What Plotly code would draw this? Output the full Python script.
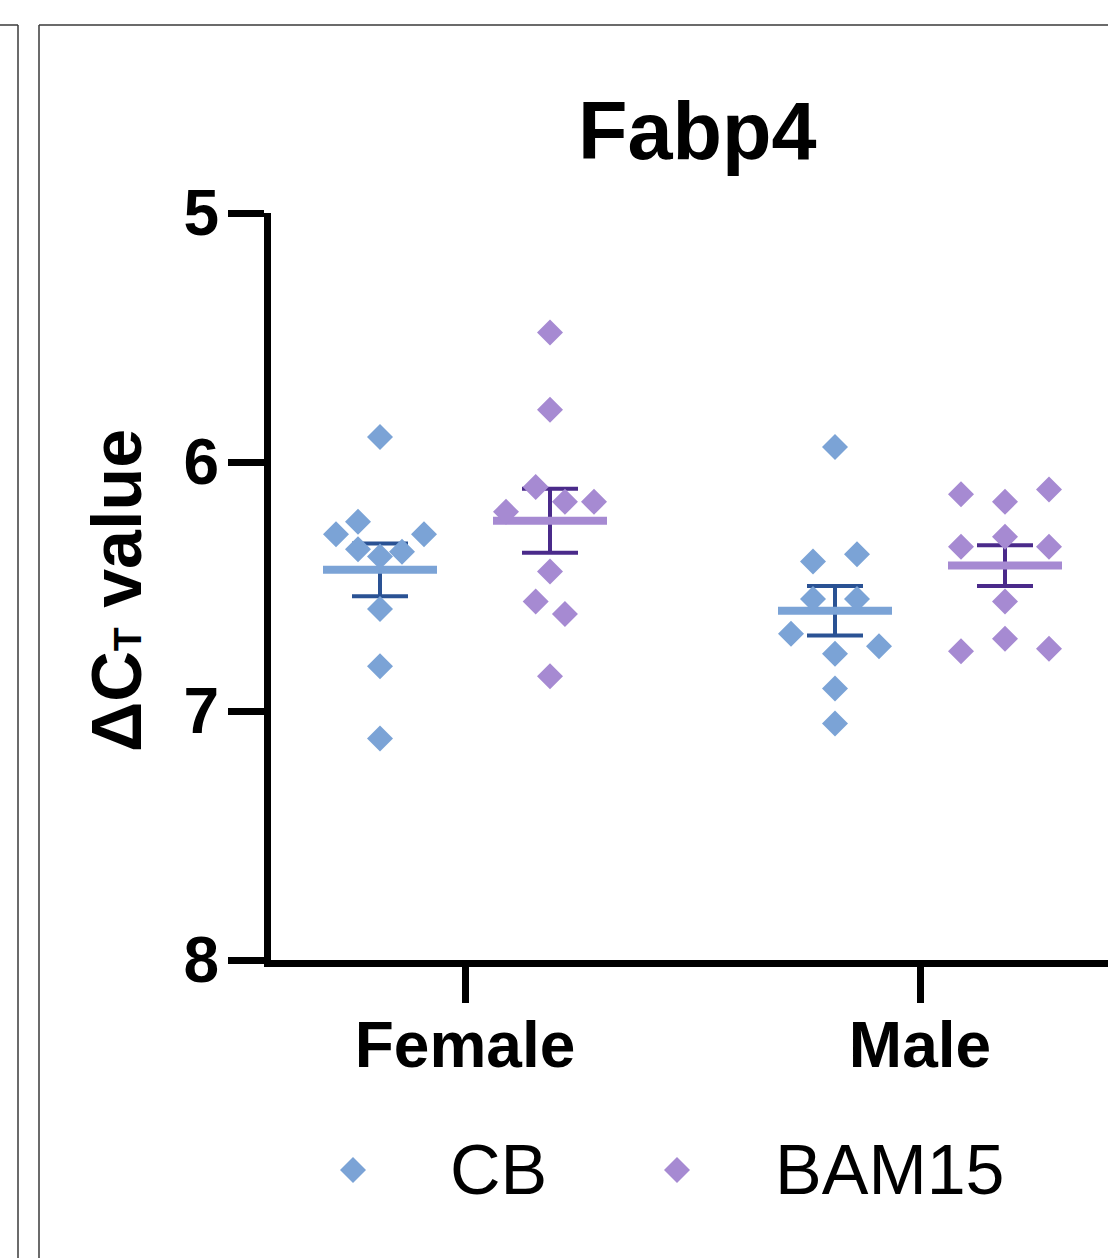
import numpy as np
import plotly.graph_objects as go

# ---------------- data ----------------
categories = ["Female", "Male"]
groups = ["CB", "BAM15"]

female_cb = [5.90, 6.29, 6.24, 6.29, 6.35, 6.38, 6.36, 6.59, 6.82, 7.11]
female_cb_jitter = [0, -2, -1, 2, -1, 0, 1, 0, 0, 0]

female_bam15 = [5.48, 5.79, 6.10, 6.20, 6.16, 6.16, 6.44, 6.56, 6.61, 6.86]
female_bam15_jitter = [0, 0, -0.65, -2, 0.68, 2, 0, -0.65, 0.68, 0]

male_cb = [5.94, 6.40, 6.37, 6.55, 6.55, 6.69, 6.77, 6.74, 6.91, 7.05]
male_cb_jitter = [0, -1, 1, -1, 1, -2, 0, 2, 0, 0]

male_bam15 = [6.13, 6.16, 6.11, 6.34, 6.30, 6.34, 6.56, 6.76, 6.71, 6.75]
male_bam15_jitter = [-2, 0, 2, -2, 0, 2, 0, -2, 0, 2]

y_ticks = [5, 6, 7, 8]

# ---------------- styling ----------------
W, H = 1108, 1258
L, R, T, B = 271, 0, 213, 298
PX_PER_X = 455.0
GROUP_OFF = 85 / PX_PER_X
JIT_STEP = 22 / PX_PER_X
MEAN_HALF = 57 / PX_PER_X
CAP_HALF = 28 / PX_PER_X

colors = {
    "CB": ("#7BA3D6", "#2A5294"),
    "BAM15": ("#A68AD2", "#4A2A8A"),
}
FONT = "Liberation Sans, Arial, sans-serif"

plot_w = W - L - R
plot_h = H - T - B
x_lo = -(465 - L) / PX_PER_X
x_hi = x_lo + plot_w / PX_PER_X


def px2paper_x(px):
    return (px - L) / plot_w


def px2paper_y(py):
    return (H - B - py) / plot_h


series = [
    (0, "CB", female_cb, female_cb_jitter),
    (0, "BAM15", female_bam15, female_bam15_jitter),
    (1, "CB", male_cb, male_cb_jitter),
    (1, "BAM15", male_bam15, male_bam15_jitter),
]

fig = go.Figure()

# mean & SEM
for ci, g, vals, jit in series:
    v = np.array(vals)
    m = v.mean()
    sem = v.std(ddof=1) / np.sqrt(len(v))
    xc = ci + (-GROUP_OFF if g == "CB" else GROUP_OFF)
    light, dark = colors[g]
    fig.add_trace(go.Scatter(
        x=[xc, xc, None, xc - CAP_HALF, xc + CAP_HALF, None, xc - CAP_HALF, xc + CAP_HALF],
        y=[m - sem, m + sem, None, m - sem, m - sem, None, m + sem, m + sem],
        mode="lines", line=dict(color=dark, width=4), showlegend=False,
        hoverinfo="skip"))
    fig.add_trace(go.Scatter(
        x=[xc - MEAN_HALF, xc + MEAN_HALF], y=[m, m],
        mode="lines", line=dict(color=light, width=8), showlegend=False,
        hoverinfo="skip"))

# points
for ci, g, vals, jit in series:
    xc = ci + (-GROUP_OFF if g == "CB" else GROUP_OFF)
    light, dark = colors[g]
    fig.add_trace(go.Scatter(
        x=[xc + j * JIT_STEP for j in jit], y=vals, mode="markers",
        marker=dict(symbol="diamond", size=20, color=light, line=dict(width=0)),
        name=g, showlegend=False))

shapes = []
frame = dict(type="line", xref="paper", yref="paper",
             line=dict(color="#3a3a3a", width=1.5), layer="below")
shapes.append(dict(frame, x0=px2paper_x(18), x1=px2paper_x(18),
                   y0=px2paper_y(25), y1=px2paper_y(1270)))
shapes.append(dict(frame, x0=px2paper_x(-5), x1=px2paper_x(18),
                   y0=px2paper_y(25), y1=px2paper_y(25)))
shapes.append(dict(frame, x0=px2paper_x(39), x1=px2paper_x(39),
                   y0=px2paper_y(25), y1=px2paper_y(1270)))
shapes.append(dict(frame, x0=px2paper_x(39), x1=px2paper_x(1120),
                   y0=px2paper_y(25), y1=px2paper_y(25)))

annotations = []
legend_items = [("CB", 353, 448), ("BAM15", 677, 773)]
for g, mx, tx in legend_items:
    shapes.append(dict(type="path", xref="paper", yref="paper",
                       xsizemode="pixel", ysizemode="pixel",
                       xanchor=px2paper_x(mx), yanchor=px2paper_y(1170),
                       path="M -13 0 L 0 13 L 13 0 L 0 -13 Z",
                       fillcolor=colors[g][0], line=dict(width=0)))
    annotations.append(dict(text=g, xref="paper", yref="paper",
                            x=px2paper_x(tx), y=px2paper_y(1170),
                            xanchor="left", yanchor="middle", showarrow=False,
                            font=dict(family=FONT, size=70, color="black")))

annotations.append(dict(text="<b>Fabp4</b>", xref="paper", yref="paper",
                        x=px2paper_x(697), y=px2paper_y(131),
                        xanchor="center", yanchor="middle", showarrow=False,
                        font=dict(family=FONT, size=81, color="black")))
annotations.append(dict(text="<b>ΔC<span style='font-size:39px'>T</span> value</b>",
                        xref="paper", yref="paper",
                        x=px2paper_x(117), y=px2paper_y(591),
                        xanchor="center", yanchor="middle", textangle=-90,
                        showarrow=False,
                        font=dict(family=FONT, size=70, color="black")))

fig.update_layout(
    width=W, height=H,
    margin=dict(l=L, r=R, t=T, b=B, pad=0),
    paper_bgcolor="white", plot_bgcolor="white",
    showlegend=False,
    shapes=shapes, annotations=annotations,
    font=dict(family=FONT, color="black"),
)
fig.update_xaxes(
    range=[x_lo, x_hi], tickvals=[0, 1], ticktext=[f"<b>{c}</b>" for c in categories],
    showline=True, linecolor="black", linewidth=7,
    ticks="outside", ticklen=36, tickwidth=7, tickcolor="black",
    tickfont=dict(family=FONT, size=64, color="black"),
    ticklabelstandoff=-13,
    showgrid=False, zeroline=False,
)
fig.update_yaxes(
    range=[8, 5], tickvals=y_ticks, ticktext=[f"<b>{t}</b>" for t in y_ticks],
    showline=True, linecolor="black", linewidth=7,
    ticks="outside", ticklen=36, tickwidth=7, tickcolor="black",
    tickfont=dict(family=FONT, size=64, color="black"),
    ticklabelstandoff=-4,
    showgrid=False, zeroline=False,
)

fig.write_html("out.html", config={"displayModeBar": False},
               post_script="document.body.style.margin='0';")
